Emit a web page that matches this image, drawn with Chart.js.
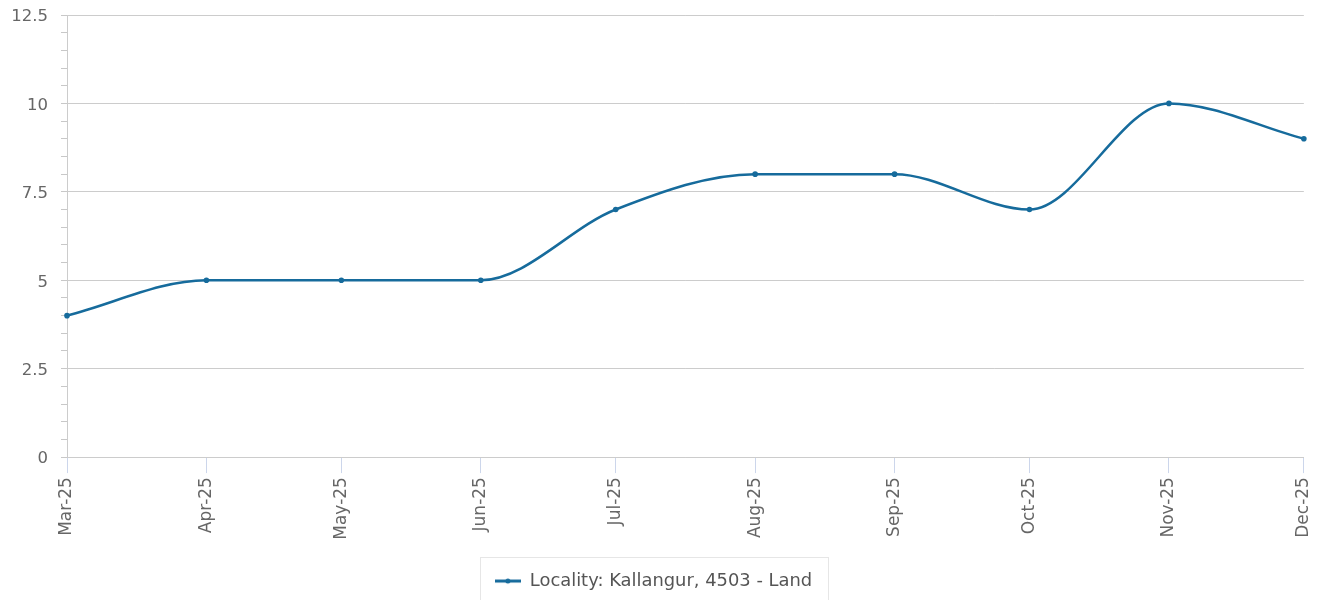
<!DOCTYPE html>
<html>
<head>
<meta charset="utf-8">
<script src="https://cdn.jsdelivr.net/npm/chart.js@4/dist/chart.umd.min.js"></script>
<style>
  html, body { margin: 0; padding: 0; background: #fff; }
  #wrap { width: 1324px; height: 600px; }
</style>
</head>
<body>
<div id="wrap"><canvas id="myChart" width="1324" height="600"></canvas></div>
<script>
// month starts (x) and the values
const months = ['2025-03-01', '2025-04-01', '2025-05-01', '2025-06-01', '2025-07-01',
                '2025-08-01', '2025-09-01', '2025-10-01', '2025-11-01', '2025-12-01'];
const values = [4, 5, 5, 5, 7, 8, 8, 7, 10, 9];
const monthNames = ['Jan', 'Feb', 'Mar', 'Apr', 'May', 'Jun', 'Jul', 'Aug', 'Sep', 'Oct', 'Nov', 'Dec'];
const yTicks = [0, 2.5, 5, 7.5, 10, 12.5];
const seriesName = 'Locality: Kallangur, 4503 - Land';

const lineColor = '#166b9c';
const fam = 'DejaVu Sans';
Chart.defaults.font.family = fam;

// little line-with-dot symbol for the legend
function legendSymbol() {
    const c = document.createElement('canvas');
    c.width = 26; c.height = 8;
    const g = c.getContext('2d');
    g.strokeStyle = lineColor;
    g.lineWidth = 3;
    g.beginPath(); g.moveTo(0, 4); g.lineTo(26, 4); g.stroke();
    g.fillStyle = lineColor;
    g.beginPath(); g.arc(13, 4, 2.5, 0, Math.PI * 2); g.fill();
    return c;
}

const points = months.map((m, i) => ({ x: Date.parse(m), y: values[i] }));

// draws the border round the legend
const legendBox = {
    id: 'legendBox',
    afterDraw(chart) {
        const hb = chart.legend.legendHitBoxes[0];
        if (!hb) return;
        const ctx = chart.ctx;
        const left = Math.round(hb.left - 15);
        const right = Math.round(hb.left + hb.width + 16);
        ctx.save();
        ctx.strokeStyle = '#e6e6e6';
        ctx.lineWidth = 1;
        ctx.strokeRect(left + 0.5, 557.5, right - left, 60);
        ctx.restore();
    }
};

new Chart(document.getElementById('myChart'), {
    type: 'line',
    data: {
        datasets: [{
            label: seriesName,
            data: points,
            borderColor: lineColor,
            backgroundColor: lineColor,
            borderWidth: 2.5,
            pointRadius: 2.8,
            pointHoverRadius: 4,
            pointBackgroundColor: lineColor,
            pointBorderWidth: 0,
            cubicInterpolationMode: 'monotone',
            pointStyle: 'circle',
            clip: false,
            fill: false
        }]
    },
    options: {
        responsive: false,
        animation: false,
        layout: { padding: { top: 15, right: 17, left: 0, bottom: 0 } },
        plugins: {
            tooltip: { enabled: false },
            legend: {
                position: 'bottom',
                labels: {
                    color: '#555',
                    font: { family: fam, size: 17.9 },
                    usePointStyle: true,
                    pointStyleWidth: 26,
                    padding: 10,
                    generateLabels: (chart) => [{
                        text: seriesName,
                        pointStyle: legendSymbol(),
                        fillStyle: lineColor,
                        strokeStyle: lineColor,
                        lineWidth: 0,
                        fontColor: '#555',
                        datasetIndex: 0
                    }]
                }
            }
        },
        scales: {
            x: {
                type: 'linear',
                min: points[0].x,
                max: points[points.length - 1].x,
                afterBuildTicks: (scale) => {
                    scale.ticks = months.map(m => ({ value: Date.parse(m) }));
                },
                afterFit: (scale) => { scale.height = 105; },
                ticks: {
                    autoSkip: false,
                    minRotation: 90,
                    maxRotation: 90,
                    color: '#666',
                    font: { family: fam, size: 17, lineHeight: 0.95 },
                    padding: 4,
                    callback: (v) => {
                        const d = new Date(v);
                        return monthNames[d.getUTCMonth()] + '-' + String(d.getUTCFullYear()).slice(2);
                    }
                },
                grid: {
                    drawOnChartArea: false,
                    drawTicks: true,
                    tickLength: 16,
                    tickColor: '#ccd6eb'
                },
                border: { color: '#ccc', width: 1 }
            },
            y: {
                min: 0,
                max: 12.5,
                afterFit: (scale) => { scale.width = 67; },
                ticks: {
                    stepSize: 0.5,
                    autoSkip: false,
                    color: '#666',
                    font: { family: fam, size: 16.5, lineHeight: 0.1 },
                    padding: 13,
                    labelOffset: 2,
                    callback: (v) => yTicks.includes(v) ? String(v) : ''
                },
                grid: {
                    color: (c) => yTicks.includes(c.tick.value) ? '#ccc' : 'rgba(0,0,0,0)',
                    tickColor: '#c8c8c8',
                    tickLength: 6
                },
                border: { color: '#ccc', width: 1 }
            }
        }
    },
    plugins: [legendBox]
});
</script>
</body>
</html>
